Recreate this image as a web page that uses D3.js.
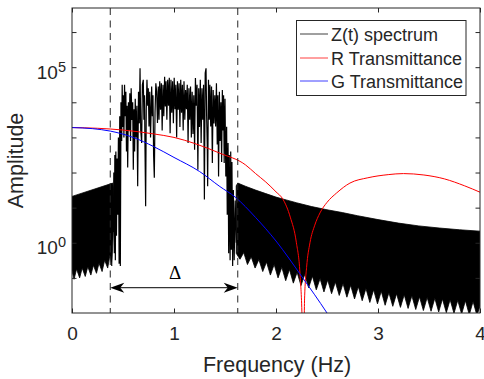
<!DOCTYPE html>
<html>
<head>
<meta charset="utf-8">
<script src="https://cdn.jsdelivr.net/npm/d3@7"></script>
<style>
body { margin: 0; background: #fff; }
svg text { font-family: "Liberation Sans", Arial, Helvetica, sans-serif; fill: #262626; }
</style>
</head>
<body>
<div id="chart"></div>
<script>
// ---- data (frequency in Hz, amplitude as log10) ----
const xTicks = [0, 1, 2, 3, 4];
const yTickExps = [-1, 0, 1, 2, 3, 4, 5, 6];
const yLabelExps = [0, 5];

const bandEdges = [0.375, 1.625];
const deltaLevel = -1.28;

// spectrum: dense oscillation below the band (envelopes)
const leftTopF = [0, 0.40, 0.405];
const leftTopLog = [1.32, 1.70, 1.55];
const leftLowF = [0, 0.02, 0.045, 0.075, 0.10, 0.13, 0.155, 0.185, 0.21, 0.24, 0.265, 0.295, 0.32, 0.35, 0.372, 0.39, 0.405];
const leftLowLog = [-0.8, -1.04, -0.75, -1.0, -0.72, -0.96, -0.68, -0.92, -0.64, -0.87, -0.58, -0.82, -0.5, -0.72, -0.35, -0.66, 0.3];

// spectrum inside the band
const bandF = [
  0.405,0.410,0.415,0.420,0.425,0.430,0.436,0.442,0.448,0.455,
  0.462,0.468,0.474,0.480,0.487,0.492,0.497,0.503,0.509,0.515,
  0.522,0.528,0.534,0.540,0.546,0.553,0.560,0.567,0.574,0.580,
  0.588,0.595,0.601,0.608,0.614,0.620,0.628,0.636,0.644,0.652,
  0.660,0.667,0.674,0.683,0.690,0.699,0.705,0.711,0.716,0.722,
  0.728,0.735,0.742,0.748,0.755,0.762,0.770,0.781,0.788,0.794,
  0.800,0.807,0.814,0.822,0.830,0.838,0.846,0.853,0.860,0.868,
  0.876,0.884,0.892,0.900,0.908,0.915,0.922,0.930,0.938,0.946,
  0.954,0.962,0.970,0.978,0.986,0.994,1.002,1.010,1.018,1.026,
  1.034,1.042,1.050,1.058,1.066,1.074,1.082,1.090,1.098,1.106,
  1.114,1.122,1.130,1.138,1.146,1.154,1.162,1.170,1.178,1.186,
  1.194,1.202,1.210,1.218,1.226,1.234,1.242,1.250,1.258,1.266,
  1.274,1.282,1.290,1.298,1.306,1.314,1.320,1.326,1.330,1.338,
  1.346,1.352,1.360,1.368,1.376,1.384,1.392,1.400,1.408,1.416,
  1.424,1.430,1.437,1.445,1.452,1.460,1.467,1.474,1.480,1.486,
  1.492,1.500,1.508,1.516,1.522,1.530,1.536,1.542,1.550,1.556,
  1.562,1.568,1.575,1.582,1.590,1.600,1.610];
const bandLog = [
  0.3,2.0,-0.3,2.5,-0.5,2.6,0.2,2.4,0.8,3.0,
  -0.6,3.6,-0.66,4.0,2.9,4.5,3.3,4.2,3.0,4.5,
  3.6,4.3,2.6,3.9,2.14,4.0,3.2,4.26,2.9,4.4,
  3.5,4.0,2.08,3.8,2.6,4.1,3.0,3.9,1.61,4.3,
  3.4,4.97,3.2,2.84,4.5,4.64,3.5,4.2,2.6,1.04,
  3.8,4.64,3.9,4.4,3.31,4.3,3.0,4.45,3.6,4.2,
  2.5,1.85,3.7,4.54,4.3,3.41,4.45,3.5,4.6,3.79,
  4.54,3.2,4.5,3.6,4.73,3.88,4.6,3.5,4.64,3.9,
  4.7,3.12,4.64,3.7,4.6,3.4,4.7,3.8,4.5,3.0,
  4.6,3.79,4.54,3.3,4.64,3.7,4.5,3.2,4.6,3.5,
  4.35,3.8,4.5,2.84,4.4,3.5,4.45,3.0,4.3,3.1,
  4.2,2.65,4.69,3.9,4.5,2.08,4.4,3.3,4.64,2.84,
  4.4,3.5,4.5,1.23,4.83,4.97,3.6,2.8,1.61,4.64,
  3.5,4.5,3.31,4.45,2.27,4.35,3.4,4.2,3.31,4.54,
  2.8,4.2,1.89,4.3,2.9,4.0,2.3,4.35,3.2,4.2,
  2.27,4.1,1.89,3.3,0.8,2.84,-0.3,2.5,-0.5,2.6,
  -0.2,2.3,-0.66,1.5,-0.5,1.2,0.0];

// spectrum above the band (envelopes)
const rightTopF = [1.61, 1.625, 1.7, 1.8, 1.9, 2.0, 2.1, 2.2, 2.35, 2.5, 2.65, 2.8, 3.0, 3.2, 3.4, 3.6, 3.8, 4.0];
const rightTopLog = [1.62, 1.70, 1.61, 1.50, 1.40, 1.30, 1.22, 1.14, 1.03, 0.94, 0.86, 0.77, 0.66, 0.56, 0.48, 0.42, 0.37, 0.33];
const rightLowF = [
  1.61,1.647,1.684,1.720,1.757,1.795,1.832,1.870,1.907,1.945,
  1.982,2.020,2.057,2.095,2.132,2.170,2.207,2.245,2.282,2.320,
  2.357,2.395,2.432,2.470,2.507,2.545,2.582,2.620,2.657,2.695,
  2.732,2.770,2.807,2.845,2.882,2.920,2.957,2.995,3.032,3.070,
  3.107,3.145,3.182,3.220,3.257,3.295,3.332,3.370,3.407,3.445,
  3.482,3.520,3.557,3.595,3.632,3.670,3.707,3.745,3.782,3.820,
  3.857,3.895,3.932,3.970,4.000];
const rightLowLog = [
  -0.3,-0.47,-0.28,-0.62,-0.40,-0.72,-0.48,-0.82,-0.55,-0.92,
  -0.62,-1.00,-0.70,-1.08,-0.76,-1.15,-0.84,-1.22,-0.90,-1.28,
  -0.95,-1.34,-1.02,-1.40,-1.06,-1.45,-1.12,-1.50,-1.16,-1.55,
  -1.21,-1.60,-1.25,-1.65,-1.30,-1.70,-1.34,-1.74,-1.38,-1.78,
  -1.42,-1.81,-1.45,-1.84,-1.48,-1.87,-1.51,-1.90,-1.54,-1.93,
  -1.56,-1.95,-1.58,-1.97,-1.60,-1.99,-1.62,-2.01,-1.64,-2.03,
  -1.65,-2.05,-1.67,-2.07,-1.80];

// transmittance curves
const redF = [0, 0.25, 0.5, 0.8, 1.0, 1.2, 1.45, 1.7, 1.8, 1.9, 2.0, 2.07, 2.14, 2.2, 2.235, 2.255, 2.262, 2.272, 2.28, 2.3, 2.333, 2.38, 2.431, 2.5, 2.595, 2.725, 2.9, 3.1, 3.25, 3.45, 3.65, 3.85, 4.0];
const redLog = [3.28, 3.26, 3.21, 3.10, 3.0, 2.83, 2.55, 2.22, 1.97, 1.73, 1.45, 1.23, 0.73, 0.0, -0.87, -2.1, -3, -3, -1.6, -0.7, 0.0, 0.5, 0.85, 1.15, 1.42, 1.70, 1.85, 1.94, 1.97, 1.93, 1.82, 1.62, 1.44];
const blueF = [0, 0.2, 0.375, 0.6, 0.8, 1.0, 1.25, 1.45, 1.6, 1.8, 2.0, 2.25, 2.5, 2.6];
const blueLog = [3.28, 3.25, 3.18, 3.0, 2.74, 2.43, 2.03, 1.60, 1.30, 0.72, 0.05, -0.95, -2.0, -2.45];

const legendLabels = ["Z(t) spectrum", "R Transmittance", "G Transmittance"];
const legendColors = ["#000000", "#ff0000", "#0000ff"];

// ---- chart ----
const width = 484, height = 379;
const margin = {top: 8, right: 4, bottom: 66, left: 72};
const plotW = width - margin.left - margin.right;
const plotH = height - margin.top - margin.bottom;
const axisColor = "#262626";

const svg = d3.select("#chart").append("svg")
    .attr("width", width)
    .attr("height", height);

const x = d3.scaleLinear().domain([0, 4]).range([margin.left, margin.left + plotW]);
const y = d3.scaleLog().domain([1e-2, Math.pow(10, 6.685)]).range([margin.top + plotH, margin.top]);

const pts = (fs, ls) => fs.map((f, i) => [f, ls[i]]);
const px = d => x(d[0]);
const py = d => y(Math.pow(10, d[1]));

svg.append("clipPath").attr("id", "plot-clip")
  .append("rect")
    .attr("x", margin.left).attr("y", margin.top)
    .attr("width", plotW).attr("height", plotH);

const g = svg.append("g").attr("clip-path", "url(#plot-clip)");

//spectrum
const poly = d3.line().x(px).y(py);
const leftPoly = pts(leftTopF, leftTopLog).concat(pts(leftLowF, leftLowLog).reverse());
const rightPoly = pts(rightTopF, rightTopLog).concat(pts(rightLowF, rightLowLog).reverse());
[leftPoly, rightPoly].forEach(p => {
  g.append("path")
    .attr("d", poly(p) + "Z")
    .attr("fill", "#000")
    .attr("stroke", "#000")
    .attr("stroke-width", 0.8)
    .attr("stroke-linejoin", "round");
});
g.append("path")
    .datum(pts(bandF, bandLog))
    .attr("d", poly)
    .attr("fill", "none")
    .attr("stroke", "#000")
    .attr("stroke-width", 1.2);

//transmittance
const smooth = d3.line().x(px).y(py).curve(d3.curveMonotoneX);
g.append("path")
    .datum(pts(redF, redLog))
    .attr("d", smooth)
    .attr("fill", "none")
    .attr("stroke", "#ff0000")
    .attr("stroke-width", 1);
g.append("path")
    .datum(pts(blueF, blueLog))
    .attr("d", smooth)
    .attr("fill", "none")
    .attr("stroke", "#0000ff")
    .attr("stroke-width", 1);

//band edges
g.selectAll(".edge")
  .data(bandEdges)
  .enter().append("line")
    .attr("class", "edge")
    .attr("x1", d => x(d)).attr("x2", d => x(d))
    .attr("y1", margin.top).attr("y2", margin.top + plotH)
    .attr("stroke", axisColor)
    .attr("stroke-width", 1)
    .attr("stroke-dasharray", "7,5.5");

//delta arrow
const ay = y(Math.pow(10, deltaLevel));
const ax0 = x(bandEdges[0]), ax1 = x(bandEdges[1]);
g.append("line")
    .attr("x1", ax0 + 6).attr("x2", ax1 - 6)
    .attr("y1", ay).attr("y2", ay)
    .attr("stroke", "#000").attr("stroke-width", 1);
[[ax0, 1], [ax1, -1]].forEach(([tx, s]) => {
  g.append("path")
    .attr("d", `M${tx},${ay} L${tx + s * 14},${ay - 5} L${tx + s * 10},${ay} L${tx + s * 14},${ay + 5} Z`)
    .attr("fill", "#000");
});
svg.append("text")
    .attr("x", x((bandEdges[0] + bandEdges[1]) / 2) + 1)
    .attr("y", ay - 9)
    .attr("text-anchor", "middle")
    .style("font-family", "'Liberation Serif', 'DejaVu Serif', serif")
    .style("font-size", "19px")
    .style("fill", "#000")
    .text("Δ");

//axes box and ticks
const tickLen = 4.5;
function styleAxis(sel) {
  sel.select(".domain").remove();
  sel.selectAll(".tick line").attr("stroke", axisColor);
}
svg.append("g")
    .attr("transform", "translate(0," + (margin.top + plotH) + ")")
    .call(d3.axisBottom(x).tickValues(xTicks).tickFormat(d3.format("d"))
          .tickSizeInner(-tickLen).tickSizeOuter(0).tickPadding(14))
    .call(styleAxis)
    .call(a => a.selectAll("text")
          .attr("fill", axisColor)
          .style("font-family", "'Liberation Sans', Arial, sans-serif")
          .style("font-size", "19px"));
svg.append("g")
    .attr("transform", "translate(0," + margin.top + ")")
    .call(d3.axisTop(x).tickValues(xTicks).tickFormat("")
          .tickSizeInner(-tickLen).tickSizeOuter(0))
    .call(styleAxis);
const yTicks = yTickExps.map(e => Math.pow(10, e));
svg.append("g")
    .attr("transform", "translate(" + margin.left + ",0)")
    .call(d3.axisLeft(y).tickValues(yTicks).tickFormat("")
          .tickSizeInner(-tickLen).tickSizeOuter(0))
    .call(styleAxis);
svg.append("g")
    .attr("transform", "translate(" + (margin.left + plotW) + ",0)")
    .call(d3.axisRight(y).tickValues(yTicks).tickFormat("")
          .tickSizeInner(-tickLen).tickSizeOuter(0))
    .call(styleAxis);

svg.append("rect")
    .attr("x", margin.left).attr("y", margin.top)
    .attr("width", plotW).attr("height", plotH)
    .attr("fill", "none")
    .attr("stroke", axisColor)
    .attr("stroke-width", 1);

//y tick labels 10^n
yLabelExps.forEach(e => {
  const t = svg.append("text")
      .attr("x", margin.left - 6)
      .attr("y", y(Math.pow(10, e)) + 11.7)
      .attr("text-anchor", "end")
      .style("font-size", "19px");
  t.append("tspan").text("10");
  t.append("tspan").attr("dy", -7.3).style("font-size", "14.5px").text(e);
});

//axis labels
svg.append("text")
    .attr("x", margin.left + plotW / 2 + 1)
    .attr("y", 372)
    .attr("text-anchor", "middle")
    .style("font-size", "21.5px")
    .text("Frequency (Hz)");
svg.append("text")
    .attr("transform", "translate(23," + (margin.top + plotH / 2) + ") rotate(-90)")
    .attr("text-anchor", "middle")
    .style("font-size", "21.5px")
    .text("Amplitude");

//legend
const lg = svg.append("g").attr("transform", "translate(296.5,20.5)");
lg.append("rect")
    .attr("width", 169.5).attr("height", 75)
    .attr("fill", "#fff")
    .attr("stroke", axisColor)
    .attr("stroke-width", 1);
legendLabels.forEach((lab, i) => {
  const ry = 14 + i * 23.5;
  lg.append("line")
      .attr("x1", 3.5).attr("x2", 31.5)
      .attr("y1", Math.round(ry) - 0.5).attr("y2", Math.round(ry) - 0.5)
      .attr("stroke", legendColors[i])
      .attr("stroke-width", 1)
      .attr("stroke-opacity", 0.75);
  lg.append("text")
      .attr("x", 34.5)
      .attr("y", ry + 6.5)
      .style("font-size", "18px")
      .text(lab);
});
</script>
</body>
</html>
